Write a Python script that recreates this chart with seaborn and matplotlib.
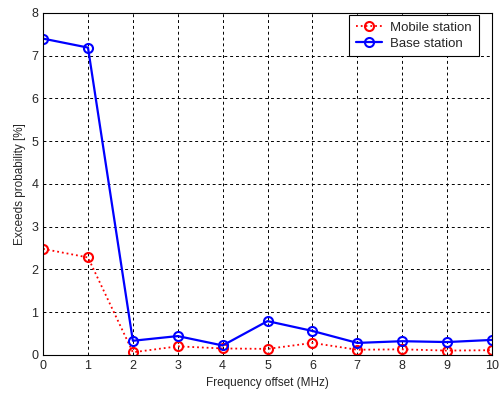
import matplotlib
matplotlib.use("Agg")
import matplotlib.pyplot as plt
import seaborn as sns
import pandas as pd

freq = [0, 1, 2, 3, 4, 5, 6, 7, 8, 9, 10]
mobile = [2.48, 2.28, 0.06, 0.2, 0.15, 0.14, 0.28, 0.12, 0.13, 0.1, 0.11]
base = [7.4, 7.19, 0.33, 0.44, 0.22, 0.79, 0.56, 0.28, 0.32, 0.30, 0.35]

sns.set_style("white")
plt.rcParams['font.family'] = ['Liberation Sans', 'DejaVu Sans']

fig = plt.figure(figsize=(5.01, 3.93), dpi=100)
ax = fig.add_axes([0.086, 0.097, 0.896, 0.870])

df = pd.DataFrame({"freq": freq, "Mobile station": mobile, "Base station": base})
sns.lineplot(data=df, x="freq", y="Mobile station", ax=ax, color="red", linestyle=":",
             marker="o", markersize=6.5, markerfacecolor="none", markeredgecolor="red",
             markeredgewidth=1.5, linewidth=1.3, label="Mobile station")
sns.lineplot(data=df, x="freq", y="Base station", ax=ax, color="blue", linestyle="-",
             marker="o", markersize=6.5, markerfacecolor="none", markeredgecolor="blue",
             markeredgewidth=1.5, linewidth=1.6, label="Base station")

ax.set_xlim(0, 10)
ax.set_ylim(0, 8)
ax.set_xticks(range(0, 11))
ax.set_yticks(range(0, 9))
ax.grid(True, color="black", linestyle=(0, (3, 3)), linewidth=0.7)
ax.tick_params(labelsize=9, direction="in", length=4, color="black")
for s in ax.spines.values():
    s.set_color("black")
    s.set_linewidth(0.8)
ax.set_xlabel("Frequency offset (MHz)", fontsize=8.5)
ax.set_ylabel("Exceeds probability [%]", fontsize=8.5)
leg = ax.legend(loc="upper right", bbox_to_anchor=(0.97, 0.995), fontsize=9.5, frameon=True,
                fancybox=False, edgecolor="black", framealpha=1, handlelength=2.0,
                borderpad=0.5, labelspacing=0.3, borderaxespad=0, handletextpad=0.6)
leg.get_frame().set_linewidth(0.8)

fig.savefig("out.png", dpi=100)
